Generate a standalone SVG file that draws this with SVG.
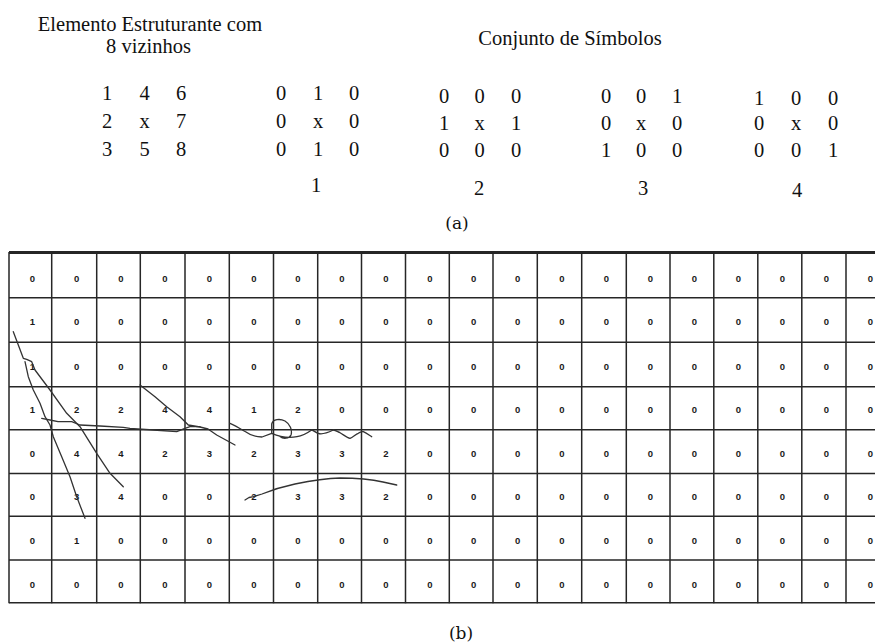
<svg xmlns="http://www.w3.org/2000/svg" width="875" height="644" viewBox="0 0 875 644">
<style>
.m{font-family:"Liberation Serif","Times New Roman",serif;font-size:20.5px;fill:#111;text-anchor:middle}
.lab{font-family:"DejaVu Serif",serif;font-size:17px;fill:#111;text-anchor:middle}
.c{font-family:"Liberation Sans",Arial,sans-serif;font-size:9.5px;font-weight:bold;fill:#1a1a1a;text-anchor:middle}
.g{stroke:#262626;stroke-width:1.5;fill:none}
.s{stroke:#333;stroke-width:1.3;fill:none;stroke-linecap:round;stroke-linejoin:round}
</style>
<rect width="875" height="644" fill="#fff"/>

<g id="elemento">
<text class="m" x="150" y="31">Elemento Estruturante com</text>
<text class="m" x="148.5" y="53">8 vizinhos</text>
<text class="m" x="107" y="100">1</text><text class="m" x="144.5" y="100">4</text><text class="m" x="181" y="100">6</text>
<text class="m" x="107" y="128">2</text><text class="m" x="144.5" y="128">x</text><text class="m" x="181" y="128">7</text>
<text class="m" x="107" y="156">3</text><text class="m" x="144.5" y="156">5</text><text class="m" x="181" y="156">8</text>
</g>

<g id="conjunto">
<text class="m" x="570" y="45">Conjunto de Símbolos</text>
</g>

<g id="simbolo1">
<text class="m" x="281" y="100">0</text><text class="m" x="318" y="100">1</text><text class="m" x="354" y="100">0</text>
<text class="m" x="281" y="128">0</text><text class="m" x="318" y="128">x</text><text class="m" x="354" y="128">0</text>
<text class="m" x="281" y="156">0</text><text class="m" x="318" y="156">1</text><text class="m" x="354" y="156">0</text>
<text class="m" x="316" y="192">1</text>
</g>

<g id="simbolo2">
<text class="m" x="444" y="102.5">0</text><text class="m" x="479.5" y="102.5">0</text><text class="m" x="516" y="102.5">0</text>
<text class="m" x="444" y="130">1</text><text class="m" x="479.5" y="130">x</text><text class="m" x="516" y="130">1</text>
<text class="m" x="444" y="157">0</text><text class="m" x="479.5" y="157">0</text><text class="m" x="516" y="157">0</text>
<text class="m" x="479" y="195">2</text>
</g>

<g id="simbolo3">
<text class="m" x="606" y="102.5">0</text><text class="m" x="641" y="102.5">0</text><text class="m" x="677" y="102.5">1</text>
<text class="m" x="606" y="130">0</text><text class="m" x="641" y="130">x</text><text class="m" x="677" y="130">0</text>
<text class="m" x="606" y="157">1</text><text class="m" x="641" y="157">0</text><text class="m" x="677" y="157">0</text>
<text class="m" x="643" y="195">3</text>
</g>

<g id="simbolo4">
<text class="m" x="759" y="105">1</text><text class="m" x="796" y="105">0</text><text class="m" x="833" y="105">0</text>
<text class="m" x="759" y="130">0</text><text class="m" x="796" y="130">x</text><text class="m" x="833" y="130">0</text>
<text class="m" x="759" y="157">0</text><text class="m" x="796" y="157">0</text><text class="m" x="833" y="157">1</text>
<text class="m" x="797" y="196.5">4</text>
</g>

<g id="label-a"><text class="lab" x="457" y="229">(a)</text></g>

<g id="grid">
<line x1="9" y1="252.5" x2="875" y2="252.5" stroke="#262626" stroke-width="3"/>
<path class="g" d="M9,297.7H875M9,342.3H875M9,386.7H875M9,429.7H875M9,473.5H875M9,516.3H875M9,560H875M9,602.7H875"/>
<path class="g" d="M9,252V603.3M51.7,252V603.3M96.7,252V603.3M140.3,252V603.3M185,252V603.3M229.3,252V603.3M273.5,252V603.3M317.7,252V603.3M361.5,252V603.3M405.5,252V603.3M449.3,252V603.3M493,252V603.3M537.3,252V603.3M581.7,252V603.3M626.3,252V603.3M670,252V603.3M713.8,252V603.3M757.8,252V603.3M801.8,252V603.3M846,252V603.3"/>
</g>

<g id="valores">
<text class="c" x="32.5 76.7 121 165 209.5 253.8 298 342 386 430 473.7 517.7 562 606.3 650.5 694.4 738.3 782.3 826.4 870.5" y="281.5">00000000000000000000</text>
<text class="c" x="32.5 76.7 121 165 209.5 253.8 298 342 386 430 473.7 517.7 562 606.3 650.5 694.4 738.3 782.3 826.4 870.5" y="325">10000000000000000000</text>
<text class="c" x="32.5 76.7 121 165 209.5 253.8 298 342 386 430 473.7 517.7 562 606.3 650.5 694.4 738.3 782.3 826.4 870.5" y="370">10000000000000000000</text>
<text class="c" x="32.5 76.7 121 165 209.5 253.8 298 342 386 430 473.7 517.7 562 606.3 650.5 694.4 738.3 782.3 826.4 870.5" y="412.5">12244120000000000000</text>
<text class="c" x="32.5 76.7 121 165 209.5 253.8 298 342 386 430 473.7 517.7 562 606.3 650.5 694.4 738.3 782.3 826.4 870.5" y="456.5">04423233200000000000</text>
<text class="c" x="32.5 76.7 121 165 209.5 253.8 298 342 386 430 473.7 517.7 562 606.3 650.5 694.4 738.3 782.3 826.4 870.5" y="500">03400233200000000000</text>
<text class="c" x="32.5 76.7 121 165 209.5 253.8 298 342 386 430 473.7 517.7 562 606.3 650.5 694.4 738.3 782.3 826.4 870.5" y="544">01000000000000000000</text>
<text class="c" x="32.5 76.7 121 165 209.5 253.8 298 342 386 430 473.7 517.7 562 606.3 650.5 694.4 738.3 782.3 826.4 870.5" y="588">00000000000000000000</text>
</g>

<g id="tracos">
<path class="s" d="M13.3,331.7 L18.3,345 L23.3,358.3 L26.7,359.3 L31.7,361.7 L35,370 L50,390 L66.7,413.3 L80,426.7 L96.7,453.3 L110,473.3 L123.3,486.7"/>
<path class="s" d="M25,361.7 L28.3,376.7 L33.3,390 L40,403.3 L45,416.7 L50,425 L53.3,436.7 L61.7,456.7 L70,476.7 L76.7,496.7 L85,518.3"/>
<path class="s" d="M41.7,418.3 L50,420 L58,421.7 L71.7,421.7 L80,425 L100,426 L123.3,427.3 L130,428.3 L153.3,430 L176.7,431.7 L185,428.3 L190,426.7 L200,426.7"/>
<path class="s" d="M140,385 L155,396.7 L166.7,406.7 L180,416.7 L188.3,425 L200,427 L208,429 L216.7,435 L235,445"/>
<path class="s" d="M230,423.3 C235,425 240,429 246,432 C250,435 256,437 262,437 L271.7,433.3 L271.7,424 C273,419 280,418.5 285,421 C290,424 292.5,430 291,435 C289,439 283,439 280,436.5 M271.7,433.3 C280,437 290,438 297,436.7 C302,436 306,434 311.7,430 C314,430.5 316,433 318.3,433.3 C322,435 327,433 333.3,430 C336,430.5 338,432 340,432.7 C344,435 347,438 350,438.3 C353,437 356,434 358.3,433.3 C360,432 362,431.5 363.3,431.7 C366,433 369,435 371.7,436.7"/>
<path class="s" d="M245,500 L249,497.5 L253.3,496.7 L262,494 C272,490 283,486.5 295,484 C310,481 325,478.5 340,478 C355,478 370,479 383,482 L396.7,485"/>
</g>

<g id="label-b"><text class="lab" x="461" y="639">(b)</text></g>
</svg>
